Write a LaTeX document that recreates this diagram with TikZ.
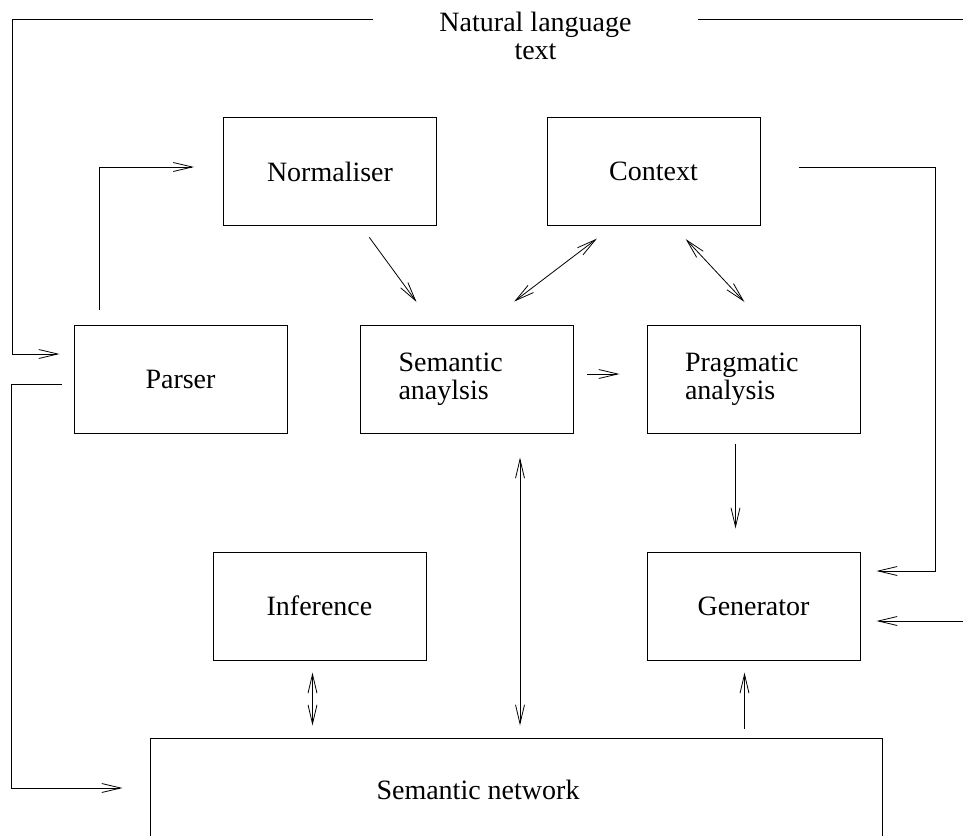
\documentclass[tikz,border=0pt]{standalone}
\usepackage{fontspec}
\setmainfont{Liberation Serif}
\usetikzlibrary{arrows.meta}

\begin{document}
\begin{tikzpicture}
[
	x=1pt, y=-1pt,
	font=\fontsize{28}{28}\selectfont,
	box/.style={draw,line width=1pt,minimum width=213pt,minimum height=108pt,inner sep=0pt},
	textbox/.style={box,text width=137pt,inner xsep=38pt,align=left},
	arr/.style={-{Straight Barb[length=19pt,width=9pt]},line width=0.8pt},
	dbl/.style={{Straight Barb[length=19pt,width=9pt]}-{Straight Barb[length=19pt,width=9pt]},line width=0.8pt}
]

	\useasboundingbox (0,0) rectangle (963,835);

	% input text
	\node[align=center,inner sep=0pt,minimum width=325pt] (nlt) at (535.5,36) {Natural language\\text};
	\coordinate (tl) at (12,19);
	\coordinate (tr) at (963,19);
	\coordinate (gin) at (963,621);

	% modules
	\node[box] (norm) at (330,171.5) {Normaliser};
	\node[box] (ctx) at (653.5,171.5) {Context};
	\node[box] (parser) at (180.5,379) {Parser};
	\node[textbox] (sem) at (467,379) {Semantic\\anaylsis};
	\node[textbox] (prag) at (753.5,379) {Pragmatic\\analysis};
	\node[box] (inf) at (319.5,606) {Inference};
	\node[box] (gen) at (753.5,606) {Generator};

	\node[box,minimum width=732pt,minimum height=100pt] (net) at (516,788) {};
	\node (nettext) at (478,790) {Semantic network};

	% outer lines
	\draw[arr,shorten >=14pt] (tl -| nlt.west) -- (tl) |- ([yshift=25pt]parser.west);
	\draw[line width=0.8pt] (tl -| nlt.east) -- (tr);
	\draw[arr,shorten <=12pt,shorten >=27pt] ([yshift=-5pt]parser.west) -- ++(-62,0) |- (net.west);
	\draw[arr,shorten <=38pt,shorten >=16pt] ([yshift=4.5pt]ctx.east) -- ++(175,0) |- ([yshift=35pt]gen.east);
	\draw[arr,shorten >=16pt] (gin) -- (gin -| gen.east);

	% inner arrows
	\draw[arr,shorten <=15pt,shorten >=29pt] ([xshift=26pt]parser.north west) |- ([yshift=4.5pt]norm.west);
	\draw[arr,shorten <=14pt,shorten >=28pt] ([xshift=31pt]norm.south) -- ([xshift=-34pt]sem.north);
	\draw[dbl,shorten <=21pt,shorten >=38pt] ([xshift=-40pt]ctx.south) -- ([xshift=17pt]sem.north);
	\draw[dbl,shorten <=18pt,shorten >=31pt] ([xshift=20pt]ctx.south) -- ([xshift=12pt]prag.north);
	\draw[arr,shorten <=13pt,shorten >=27pt] ([yshift=5pt]sem.east) -- ([yshift=5pt]prag.west);
	\draw[arr,shorten <=10pt,shorten >=23pt] ([xshift=-18pt]prag.south) -- ([xshift=-18pt]gen.north);

	% to and from the network
	\draw[dbl,shorten <=24pt,shorten >=12pt] ([xshift=53pt]sem.south) -- ([xshift=53pt]sem.south |- net.north);
	\draw[dbl,shorten <=12pt,shorten >=12pt] ([xshift=-7pt]inf.south) -- ([xshift=-7pt]inf.south |- net.north);
	\draw[arr,shorten <=9pt,shorten >=12pt] ([xshift=-9pt]gen.south |- net.north) -- ([xshift=-9pt]gen.south);

\end{tikzpicture}
\end{document}
